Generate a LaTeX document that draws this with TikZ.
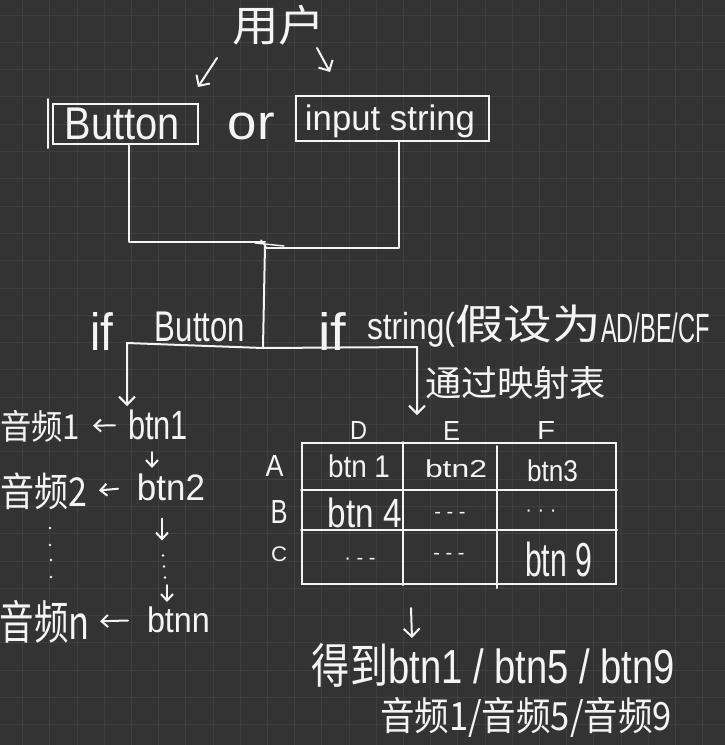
\documentclass[tikz,border=0pt]{standalone}
\usepackage{fontspec}
\usepackage{graphicx}
\setmainfont{Liberation Sans}
\newfontfamily\cjk{Noto Sans CJK SC}
\usetikzlibrary{arrows.meta,calc}
\definecolor{bg}{HTML}{333333}
\definecolor{gridc}{HTML}{3F3F3F}
\definecolor{ink}{HTML}{F4F4F4}
\newcommand{\fitt}[3]{\resizebox*{#1pt}{#2pt}{\fontsize{30}{30}\selectfont #3}}
\begin{document}
\begin{tikzpicture}[x=1pt,y=-1pt,
  txt/.style={inner sep=0pt, outer sep=0pt, text=ink},
  boxx/.style={draw=ink, line width=2pt, inner sep=0pt},
  lin/.style={draw=ink, line width=2pt, line cap=round, line join=round},
  arr/.style={lin, -{Straight Barb[length=8pt,width=16pt]}},
  sarr/.style={lin, -{Straight Barb[length=6.5pt,width=12pt]}},
  gridl/.style={draw=gridc, line width=1pt}
]
\useasboundingbox (0,0) rectangle (725,745);
\clip (0,0) rectangle (725,745);
\fill[bg] (0,0) rectangle (725,745);
\foreach \i in {0,...,25} \draw[gridl] (22.7+27.2*\i,0) -- (22.7+27.2*\i,745);
\foreach \j in {0,...,26} \draw[gridl] (0,15+27.3*\j) -- (725,15+27.3*\j);

% top
\node[txt] (user) at (278.5,25) {\fitt{93}{40}{\cjk 用户}};
\node[boxx, minimum width=145pt, minimum height=40pt] (btnbox) at (125.5,124) {};
\node[txt] (btntxt) at (122.5,124) {\fitt{115}{32}{Button}};
\node[txt] (ortxt) at (251.5,126.5) {\fitt{47}{27}{or}};
\node[boxx, minimum width=193pt, minimum height=45pt] (inbox) at (392.5,118.5) {};
\node[txt] (intxt) at (390,121.5) {\fitt{170}{33}{input string}};
\draw[lin] ($(btnbox.west)+(-4,-25)$) -- ($(btnbox.west)+(-4,24)$);

\draw[arr] ($(user.south west)+(-15,13)$) -- ($(btnbox.north east)+(-1,-16)$);
\draw[arr] ($(user.south east)+(-8,3)$) -- ($(inbox.north west)+(35,-23)$);

% merge
\coordinate (j) at (265,245);
\coordinate (k) at (263,348);
\draw[lin] ($(btnbox.south)+(3,0)$) |- ($(j)+(0,-3)$);
\draw[lin] ($(inbox.south)+(6,0)$) |- ($(j)+(0,3)$);
\draw[lin, line width=1.4pt] ($(j)+(-10,-2)$) -- ($(j)+(19,1)$);
\draw[lin, line width=1.4pt] ($(j)+(-4,-5)$) -- ($(j)+(1,2)$);
\draw[lin] (j) -- (k);

% labels of branches
\node[txt] (if1) at (101.5,331) {\fitt{23}{38}{if}};
\node[txt] (ifbtn) at (200,327) {\fitt{90}{30}{Button}};
\node[txt] (if2) at (332,331) {\fitt{28}{38}{if}};
\node[txt] (str) at (411,329.5) {\fitt{88}{35}{string(}};
\node[txt] (jia) at (528,324) {\fitt{146}{38}{\cjk 假设为}};
\node[txt] (adbe) at (655.5,328) {\fitt{109}{30}{AD/BE/CF}};
\node[txt] (map) at (515.5,382.5) {\fitt{181}{33}{\cjk 通过映射表}};

% left column
\node[txt] (a1) at (40,426) {\fitt{80}{32}{\cjk 音频1}};
\node[txt] (btn1) at (158,425) {\fitt{60}{30}{btn1}};
\node[txt] (a2) at (43.5,491.5) {\fitt{87}{37}{\cjk 音频2}};
\node[txt] (btn2) at (171,487) {\fitt{68}{27}{btn2}};
\node[txt] (an) at (45,621.5) {\fitt{90}{43}{\cjk 音频n}};
\node[txt] (btnn) at (178.5,620) {\fitt{63}{26}{btnn}};

\draw[sarr, shorten <=13pt, shorten >=13pt] (btn1.west) -- (a1.east);
\draw[sarr, shorten <=19pt, shorten >=12pt] (btn2.west) -- (a2.east);
\draw[sarr, shorten <=19pt, shorten >=10pt] (btnn.west) -- (an.east);
\draw[sarr] ($(btn1.south)+(-6,12)$) -- ($(btn1.south)+(-6,28)$);
\draw[sarr] ($(btn2.south)+(-9,18)$) -- ($(btn2.south)+(-9,40)$);
\draw[sarr] ($(btnn.north)+(-11.5,-22)$) -- ($(btnn.north)+(-11.5,-5)$);
\foreach \dx/\dy in {-8/55,-7/66,-6/77} \fill[ink] ($(btn2.south)+(\dx,\dy)$) circle (1.4pt);
\foreach \dx/\dy in {6.5/18,6.5/35,7.5/50,7.5/67} \fill[ink] ($(a2.south)+(\dx,\dy)$) circle (1.4pt);

% table
\node[boxx, minimum width=314pt, minimum height=141pt] (tbl) at (459,513.5) {};
\draw[lin] ($(tbl.north west)+(102,0)$) -- ($(tbl.south west)+(102,0)$);
\draw[lin] ($(tbl.north west)+(196,4)$) -- ($(tbl.south west)+(196,3)$);
\draw[lin] ($(tbl.north west)+(0,48)$) -- ($(tbl.north east)+(0,48)$);
\draw[lin] ($(tbl.north west)+(0,88)$) -- ($(tbl.north east)+(0,88)$);

\node[txt] (hD) at (358.5,430.5) {\fitt{17}{18}{D}};
\node[txt] (hE) at (451.5,431) {\fitt{17}{19}{E}};
\node[txt] (hF) at (546,430.5) {\fitt{18}{18}{F}};
\node[txt] (rA) at (274.5,465.5) {\fitt{18}{21}{A}};
\node[txt] (rB) at (279,511.5) {\fitt{17}{23}{B}};
\node[txt] (rC) at (279,554.5) {\fitt{16}{15}{C}};
\node[txt] (c11) at (359,466.5) {\fitt{62}{23}{btn 1}};
\node[txt] (c12) at (456,469) {\fitt{62}{18}{btn2}};
\node[txt] (c13) at (552.5,471) {\fitt{51}{22}{btn3}};
\node[txt] (c21) at (365,513) {\fitt{74}{30}{btn 4}};
\node[txt] (c22) at (450,515) {\fontsize{20}{20}\selectfont - - -};
\node[txt] (c23) at (541,513) {\fontsize{20}{20}\selectfont · · ·};
\node[txt] (c31) at (360,561) {\fontsize{20}{20}\selectfont · - -};
\node[txt] (c32) at (449,556) {\fontsize{20}{20}\selectfont - - -};
\node[txt] (c33) at (558.5,559.5) {\fitt{67}{35}{btn 9}};

\draw[arr] (k) -- ($(btn1.north west)+(-1,-67)$) -- ($(btn1.north west)+(-1,-4)$);
\draw[arr] (k) -- ($(tbl.north west)+(116,-95)$) -- ($(tbl.north west)+(116,-27)$);

% result
\node[txt] (res1) at (493.5,665) {\fitt{363}{44}{{\cjk 得到}btn1 / btn5 / btn9}};
\node[txt] (res2) at (526,717) {\fitt{292}{40}{\cjk 音频1/音频5/音频9}};
\draw[arr] ($(tbl.south west)+(110,23)$) -- ($(res1.north west)+(100,-5)$);
\end{tikzpicture}
\end{document}
